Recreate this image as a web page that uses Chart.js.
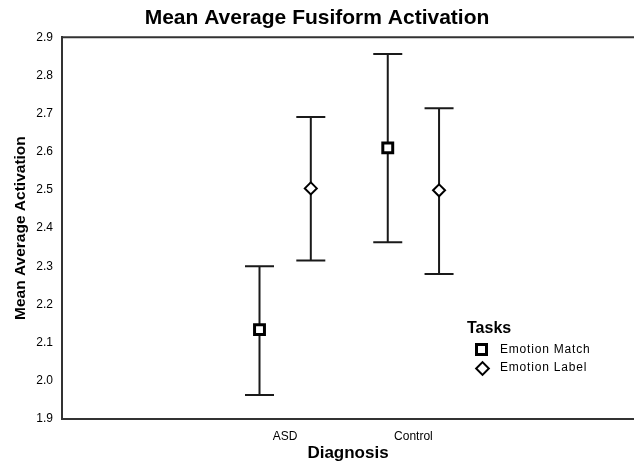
<!DOCTYPE html>
<html>
<head>
  <title>Mean Average Fusiform Activation</title>
  <script src="https://cdn.jsdelivr.net/npm/chart.js"></script>
  <style>
    body { margin: 0; background: #fff; }
    #wrap { position: relative; width: 634px; height: 461px; }
    .legend { position: absolute; left: 467px; top: 319px; font-family: "Liberation Sans", Arial, sans-serif; color: #000; }
    .legend .head { font-weight: bold; font-size: 16px; margin-bottom: 3px; }
    .legend .row { position: relative; height: 18px; font-size: 12px; line-height: 18px; padding-left: 33px; letter-spacing: 0.8px; }
    .legend .sq { position: absolute; left: 8px; top: 3px; width: 7px; height: 7px; border: 3px solid #000; }
    .legend .dm { position: absolute; left: 10px; top: 5px; width: 7px; height: 7px; border: 2px solid #000; transform: rotate(45deg); }
  </style>
</head>
<body>
  <div id="wrap">
    <canvas id="chart" width="634" height="461"></canvas>
    <div class="legend">
      <div class="head">Tasks</div>
      <div class="row"><span class="sq"></span>Emotion Match</div>
      <div class="row"><span class="dm"></span>Emotion Label</div>
    </div>
  </div>

  <script>
    // Valeurs
    var diagnosis = ['ASD', 'Control'];
    var tasks = ['Emotion Match', 'Emotion Label'];
    var matchMean = [2.134, 2.61];
    var matchLow = [1.963, 2.363];
    var matchHigh = [2.30, 2.856];
    var labelMean = [2.504, 2.499];
    var labelLow = [2.315, 2.28];
    var labelHigh = [2.691, 2.714];
    var yTicks = [1.9, 2.0, 2.1, 2.2, 2.3, 2.4, 2.5, 2.6, 2.7, 2.8, 2.9];

    var font = '"Liberation Sans", Arial, sans-serif';

    function points(means, shift) {
      return means.map(function(m, i) { return { x: i + 1 + shift, y: m }; });
    }

    // Barres d'erreur + bord haut du cadre
    var errorBars = {
      id: 'errorBars',
      beforeDatasetsDraw: function(chart) {
        var ctx = chart.ctx, xs = chart.scales.x, ys = chart.scales.y, a = chart.chartArea;
        ctx.save();
        ctx.strokeStyle = '#333';
        ctx.lineWidth = 2;
        ctx.beginPath();
        ctx.moveTo(a.left - 1, a.top);
        ctx.lineTo(a.right, a.top);
        ctx.stroke();

        ctx.strokeStyle = '#1a1a1a';
        chart.data.datasets.forEach(function(ds) {
          ds.data.forEach(function(p, i) {
            var x = xs.getPixelForValue(p.x);
            var t = ys.getPixelForValue(ds.high[i]);
            var b = ys.getPixelForValue(ds.low[i]);
            ctx.beginPath();
            ctx.moveTo(x, t); ctx.lineTo(x, b);
            ctx.moveTo(x - 14.5, t); ctx.lineTo(x + 14.5, t);
            ctx.moveTo(x - 14.5, b); ctx.lineTo(x + 14.5, b);
            ctx.stroke();
          });
        });
        ctx.restore();
      }
    };

    var chart = new Chart(document.getElementById('chart'), {
      type: 'scatter',
      data: {
        datasets: [{
          label: tasks[0],
          data: points(matchMean, -0.2),
          low: matchLow,
          high: matchHigh,
          pointStyle: 'rect',
          pointRadius: 7,
          pointBorderWidth: 3,
          borderColor: '#000',
          backgroundColor: '#fff'
        }, {
          label: tasks[1],
          data: points(labelMean, 0.2),
          low: labelLow,
          high: labelHigh,
          pointStyle: 'rectRot',
          pointRadius: 6,
          pointBorderWidth: 2,
          borderColor: '#000',
          backgroundColor: '#fff'
        }]
      },
      options: {
        responsive: false,
        animation: false,
        layout: { padding: 0, autoPadding: false },
        plugins: {
          legend: { display: false },
          tooltip: { enabled: false },
          title: {
            display: true,
            text: 'Mean Average Fusiform Activation',
            color: '#000',
            font: { family: font, size: 21, weight: 'bold' },
            padding: { top: 6, bottom: 6 }
          }
        },
        scales: {
          x: {
            type: 'linear',
            min: -0.74,
            max: 3.72,
            afterBuildTicks: function(s) { s.ticks = diagnosis.map(function(d, i) { return { value: i + 1 }; }); },
            afterFit: function(s) { s.height = 42; },
            grid: { display: false, drawTicks: false },
            border: { color: '#333', width: 2 },
            ticks: {
              padding: 10,
              color: '#000',
              font: { family: font, size: 12 },
              callback: function(v) { return diagnosis[v - 1]; }
            },
            title: {
              display: true,
              text: 'Diagnosis',
              color: '#000',
              font: { family: font, size: 17, weight: 'bold' },
              padding: { top: 0, bottom: -3 }
            }
          },
          y: {
            min: 1.9,
            max: 2.9,
            afterBuildTicks: function(s) { s.ticks = yTicks.map(function(v) { return { value: v }; }); },
            afterFit: function(s) { s.width = 62; },
            grid: { display: false, drawTicks: false },
            border: { color: '#333', width: 2 },
            ticks: {
              padding: 9,
              color: '#000',
              font: { family: font, size: 12 },
              callback: function(v) { return v.toFixed(1); }
            },
            title: {
              display: true,
              text: 'Mean Average Activation',
              color: '#000',
              font: { family: font, size: 15.5, weight: 'bold' },
              padding: { top: 11, bottom: 0 }
            }
          }
        }
      },
      plugins: [errorBars]
    });
  </script>
</body>
</html>
